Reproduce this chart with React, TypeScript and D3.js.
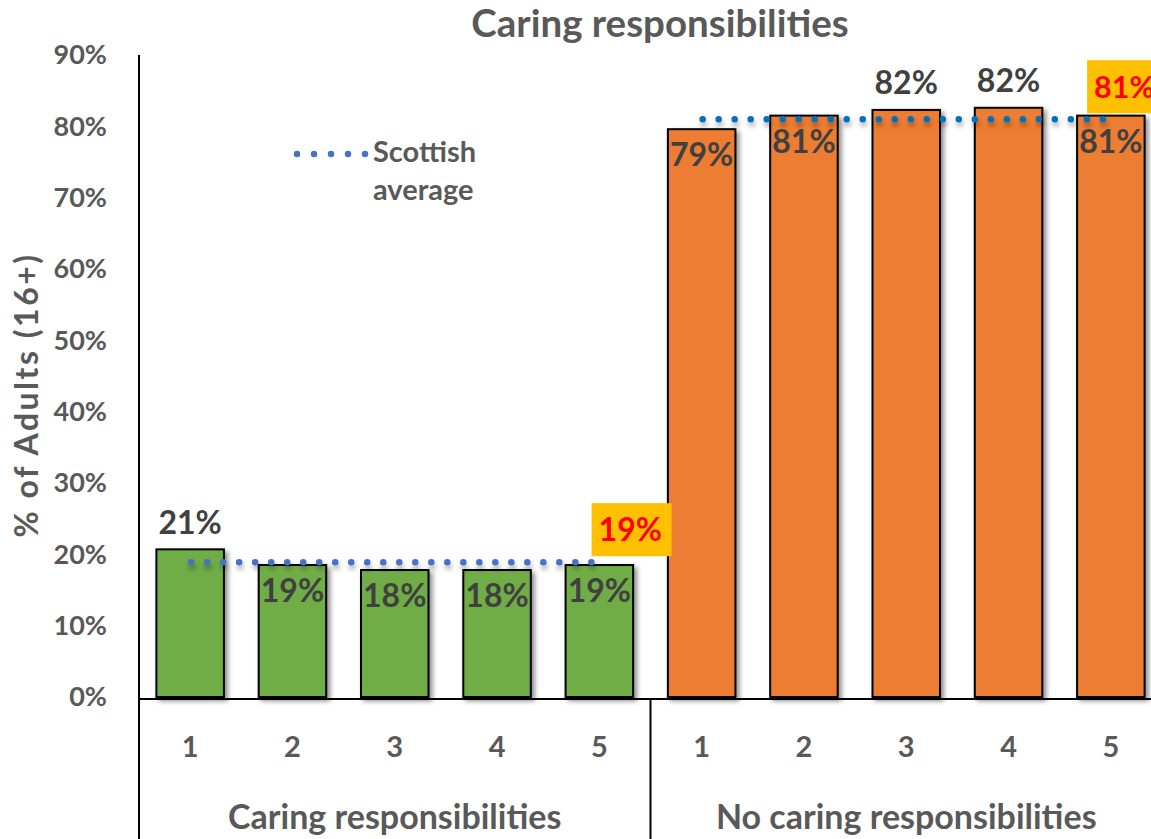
import React from "react";
import * as d3 from "d3";

const groups = ["Caring responsibilities", "No caring responsibilities"];
const quintiles = ["1", "2", "3", "4", "5"];
const caringValues = [0.207, 0.185, 0.178, 0.178, 0.185];
const noCaringValues = [0.796, 0.815, 0.823, 0.826, 0.815];
const caringLabels = ["21%", "19%", "18%", "18%", "19%"];
const noCaringLabels = ["79%", "81%", "82%", "82%", "81%"];
const caringLabelPlace = ["above", "inside", "inside", "inside", "inside"];
const noCaringLabelPlace = ["inside", "inside", "above", "above", "inside"];
const averages = [0.189, 0.81];
const averageLabels = ["19%", "81%"];
const yTicks = [0, 0.1, 0.2, 0.3, 0.4, 0.5, 0.6, 0.7, 0.8, 0.9];

const W = 1151, H = 839;
const FONT = "Lato, 'Open Sans', sans-serif";
const GRAY = "#595959";
const DARK = "#404040";

export default function App() {
  const y = d3.scaleLinear().domain([0, 0.9]).range([697, 55]);
  const keys = groups.flatMap((g, gi) => quintiles.map((q) => `${gi}-${q}`));
  const x = d3.scaleBand().domain(keys).range([139, 1162]).paddingInner(0.34).paddingOuter(0.17);
  const bw = x.bandwidth();
  const fmt = d3.format(".0%");

  const series = [
    { values: caringValues, labels: caringLabels, place: caringLabelPlace, fill: "#70AD47", dot: "#4472C4", boxDx: 26, boxFont: 32 },
    { values: noCaringValues, labels: noCaringLabels, place: noCaringLabelPlace, fill: "#ED7D31", dot: "#0070C0", boxDx: 10, boxFont: 30.5 },
  ];

  const axisY = y(0) + 2;
  const groupStart = (gi: number) => (x(`${gi}-1`) as number) - x.step() * 0.17;
  const groupEnd = (gi: number) => (x(`${gi}-5`) as number) + bw + x.step() * 0.17;

  return (
    <svg width={W} height={H} style={{ position: "absolute", left: 0, top: 0, background: "#fff" }} fontFamily={FONT}>
      <defs>
        <filter id="shadow" x="-20%" y="-20%" width="150%" height="150%">
          <feDropShadow dx="3" dy="3" stdDeviation="2.5" floodColor="#000" floodOpacity="0.45" />
        </filter>
        <filter id="dotshadow" filterUnits="userSpaceOnUse" x={0} y={0} width={W} height={H}>
          <feDropShadow dx="1" dy="4" stdDeviation="2.5" floodColor="#000" floodOpacity="0.35" />
        </filter>
      </defs>

      <text x={660} y={37} textAnchor="middle" fontSize={38.5} fontWeight={700} fill={GRAY}>Caring responsibilities</text>

      {yTicks.map((t) => (
        <text key={t} x={107} y={y(t)} dy="0.35em" textAnchor="end" fontSize={27} fontWeight={700} fill={GRAY}>{fmt(t)}</text>
      ))}
      <text transform={`translate(38,395) rotate(-90)`} textAnchor="middle" fontSize={32} letterSpacing={2.5} fontWeight={700} fill={GRAY}>% of Adults (16+)</text>

      {series.map((s, gi) => (
        <g key={gi}>
          {s.values.map((v, i) => (
            <rect key={i} x={x(`${gi}-${quintiles[i]}`)} y={y(v)} width={bw} height={y(0) - y(v)}
              fill={s.fill} stroke="#000" strokeWidth={2} filter="url(#shadow)" />
          ))}
        </g>
      ))}

      {series.map((s, gi) => {
        const x1 = (x(`${gi}-1`) as number) + bw / 2 + 1;
        const x2 = (x(`${gi}-5`) as number) + bw / 2 - 8;
        const yy = y(averages[gi]);
        const period = (x2 - x1) / 25;
        return (
          <path key={gi} d={d3.line()([[x1, yy], [x2 + 1, yy]]) as string} stroke={s.dot} strokeWidth={6.5}
            strokeLinecap="round" strokeDasharray={`0 ${period}`} fill="none" filter="url(#dotshadow)" />
        );
      })}

      {series.map((s, gi) => (
        <g key={gi}>
          {s.values.map((v, i) => {
            const cx = (x(`${gi}-${quintiles[i]}`) as number) + bw / 2;
            const above = s.place[i] === "above";
            const ty = above ? y(v) - 27 : y(v) + 26;
            return (
              <text key={i} x={cx} y={ty} dy="0.35em" textAnchor="middle" fontSize={32} fontWeight={700} fill={DARK}>{s.labels[i]}</text>
            );
          })}
        </g>
      ))}

      {/* highlighted averages */}
      {series.map((s, gi) => {
        const bx = (x(`${gi}-5`) as number) + s.boxDx;
        const yy = y(averages[gi]);
        return (
          <g key={gi}>
            <rect x={bx} y={yy - 59} width={80} height={53} fill="#FFC000" />
            <text x={bx + 7} y={yy - 32} dy="0.35em" textAnchor="start" fontSize={s.boxFont} fontWeight={700} fill="#FF0000">{averageLabels[gi]}</text>
          </g>
        );
      })}

      {/* legend */}
      <path d={d3.line()([[297, 154], [366, 154]]) as string} stroke="#4472C4" strokeWidth={6.5} strokeLinecap="round" strokeDasharray="0 17" fill="none" />
      <text x={373} y={152} dy="0.35em" fontSize={29} fontWeight={700} fill={GRAY}>Scottish</text>
      <text x={373} y={190} dy="0.35em" fontSize={29} fontWeight={700} fill={GRAY}>average</text>

      {/* axes */}
      <line x1={139} y1={55} x2={139} y2={H} stroke="#000" strokeWidth={2} />
      <line x1={139} y1={axisY} x2={W} y2={axisY} stroke="#000" strokeWidth={2} />
      <line x1={groupEnd(0)} y1={axisY} x2={groupEnd(0)} y2={H} stroke="#000" strokeWidth={2} />

      {keys.map((k, i) => (
        <text key={k} x={(x(k) as number) + bw / 2} y={747} dy="0.35em" textAnchor="middle" fontSize={29} fontWeight={700} fill={GRAY}>{quintiles[i % 5]}</text>
      ))}
      {groups.map((g, gi) => (
        <text key={g} x={(groupStart(gi) + groupEnd(gi)) / 2} y={817} dy="0.35em" textAnchor="middle" fontSize={34} fontWeight={700} fill={GRAY}>{g}</text>
      ))}
    </svg>
  );
}
